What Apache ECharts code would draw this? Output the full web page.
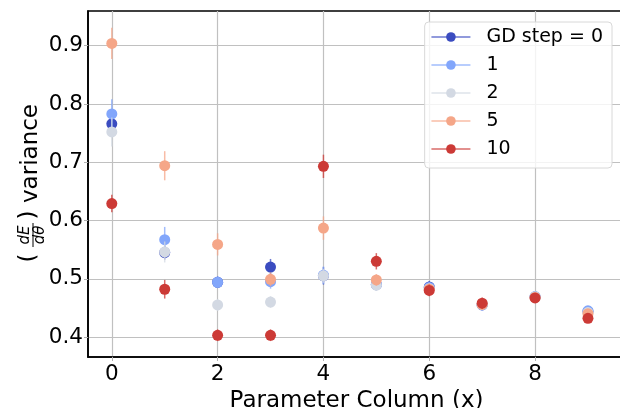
<!DOCTYPE html>
<html>
<head>
<meta charset="utf-8">
<script src="https://cdn.jsdelivr.net/npm/echarts@6/dist/echarts.min.js"></script>
<style>
  html, body { margin: 0; padding: 0; background: #fff; }
  #chart { width: 620px; height: 408px; }
</style>
</head>
<body>
<div id="chart"></div>
<script>
// GD step series, x = parameter column 0..9
var columns = [0, 1, 2, 3, 4, 5, 6, 7, 8, 9];
var stepNames = ['GD step = 0', '1', '2', '5', '10'];
var stepColors = ['#3b4cc0', '#82a6fb', '#d3d9e3', '#f5a688', '#cc3a36'];

var gd0 = [0.766, 0.545, 0.494, 0.520, 0.505, 0.490, 0.486, 0.455, 0.469, 0.444];
var gd1 = [0.783, 0.567, 0.494, 0.495, 0.506, 0.490, 0.485, 0.455, 0.469, 0.445];
var gd2 = [0.752, 0.546, 0.455, 0.460, 0.505, 0.489, 0.483, 0.456, 0.469, 0.442];
var gd5 = [0.904, 0.694, 0.559, 0.499, 0.587, 0.498, 0.482, 0.456, 0.468, 0.440];
var gd10 = [0.629, 0.482, 0.403, 0.403, 0.693, 0.530, 0.480, 0.458, 0.467, 0.432];

var err0 = [0.012, 0.012, 0.010, 0.014, 0.015, 0.010, 0.010, 0.008, 0.008, 0.008];
var err1 = [0.025, 0.022, 0.010, 0.012, 0.015, 0.010, 0.010, 0.008, 0.008, 0.008];
var err2 = [0.025, 0.018, 0.010, 0.010, 0.012, 0.010, 0.008, 0.008, 0.008, 0.008];
var err5 = [0.027, 0.025, 0.019, 0.012, 0.020, 0.010, 0.010, 0.008, 0.008, 0.008];
var err10 = [0.015, 0.016, 0.010, 0.010, 0.020, 0.014, 0.010, 0.010, 0.008, 0.008];

var xTicks = [0, 2, 4, 6, 8];
var yTicks = [0.4, 0.5, 0.6, 0.7, 0.8, 0.9];

var values = [gd0, gd1, gd2, gd5, gd10];
var errors = [err0, err1, err2, err5, err10];

var myChart = echarts.init(document.getElementById('chart'));
var font = 'DejaVu Sans';

var series = [];
values.forEach(function (vals, i) {
    // points
    series.push({
        type: 'line',
        name: stepNames[i],
        z: 3 + i * 2,
        data: columns.map(function (c, k) { return [c, vals[k]]; }),
        symbol: 'circle',
        symbolSize: 11,
        showSymbol: true,
        itemStyle: { color: stepColors[i], opacity: 1 },
        lineStyle: { width: 0, opacity: 0 },
        emphasis: { disabled: true }
    });
    // error bars
    series.push({
        type: 'custom',
        z: 2 + i * 2,
        silent: true,
        data: columns.map(function (c, k) { return [c, vals[k] - errors[i][k], vals[k] + errors[i][k]]; }),
        encode: { x: 0, y: [1, 2] },
        renderItem: function (params, api) {
            var lo = api.coord([api.value(0), api.value(1)]);
            var hi = api.coord([api.value(0), api.value(2)]);
            return {
                type: 'line',
                shape: { x1: lo[0], y1: lo[1], x2: hi[0], y2: hi[1] },
                style: { stroke: stepColors[i], lineWidth: 1.5, opacity: 0.75 }
            };
        }
    });
});

myChart.setOption({
    animation: false,
    color: stepColors,
    grid: { left: 88, top: 11, right: -5, bottom: 51, outerBoundsMode: 'none', containLabel: false,
        show: true, borderColor: '#000', borderWidth: 1.6, backgroundColor: 'transparent' },
    legend: {
        data: stepNames,
        orient: 'vertical',
        right: 8,
        top: 22,
        padding: [5, 9, 9, 6],
        itemGap: 8,
        itemWidth: 39,
        itemHeight: 12,
        backgroundColor: 'rgba(255,255,255,0.8)',
        borderColor: '#d8d8d8',
        borderWidth: 1,
        borderRadius: 4,
        lineStyle: { width: 1.5, opacity: 0.75 },
        textStyle: { fontFamily: font, fontSize: 19, lineHeight: 20, color: '#000', padding: [0, 0, 0, 11] }
    },
    xAxis: {
        type: 'value',
        min: -0.45,
        max: 9.7,
        name: 'Parameter Column (x)',
        nameLocation: 'middle',
        nameGap: 25,
        nameTextStyle: { fontFamily: font, fontSize: 23, color: '#000' },
        axisLine: { onZero: false, lineStyle: { color: '#000', width: 1.6 } },
        axisTick: { show: true, length: 4, lineStyle: { color: '#b0b0b0' }, customValues: xTicks },
        axisLabel: { fontFamily: font, fontSize: 21.5, color: '#000', margin: 6, customValues: xTicks },
        splitLine: { show: true, lineStyle: { color: '#c0c0c0', width: 1.2 } }
    },
    yAxis: {
        type: 'value',
        min: 0.3657,
        max: 0.9596,
        axisLine: { show: true, onZero: false, lineStyle: { color: '#000', width: 1.6 } },
        axisTick: { show: true, length: 4, lineStyle: { color: '#b0b0b0' }, customValues: yTicks },
        axisLabel: { fontFamily: font, fontSize: 21.5, color: '#000', margin: 5, customValues: yTicks,
            formatter: function (v) { return v.toFixed(1); } },
        splitLine: { show: true, lineStyle: { color: '#c0c0c0', width: 1.2 } }
    },
    graphic: [{
        type: 'group',
        x: 30,
        y: 188,
        rotation: Math.PI / 2,
        children: [
            { type: 'text', x: -70, y: -1, style: { text: '(', font: '23px DejaVu Sans', fill: '#000', align: 'center', verticalAlign: 'middle' } },
            { type: 'text', x: -47, y: -5, style: { text: 'dE', font: 'italic 15px DejaVu Sans', fill: '#000', align: 'center', verticalAlign: 'middle' } },
            { type: 'line', shape: { x1: -59, y1: 3, x2: -35, y2: 3 }, style: { stroke: '#000', lineWidth: 1 } },
            { type: 'text', x: -47, y: 10, style: { text: 'dθ', font: 'italic 15px DejaVu Sans', fill: '#000', align: 'center', verticalAlign: 'middle' } },
            { type: 'text', x: -27, y: -1, style: { text: ')', font: '23px DejaVu Sans', fill: '#000', align: 'center', verticalAlign: 'middle' } },
            { type: 'text', x: -15, y: 1, style: { text: 'variance', font: '23px DejaVu Sans', fill: '#000', verticalAlign: 'middle' } }
        ]
    }],
    series: series
});
</script>
</body>
</html>
